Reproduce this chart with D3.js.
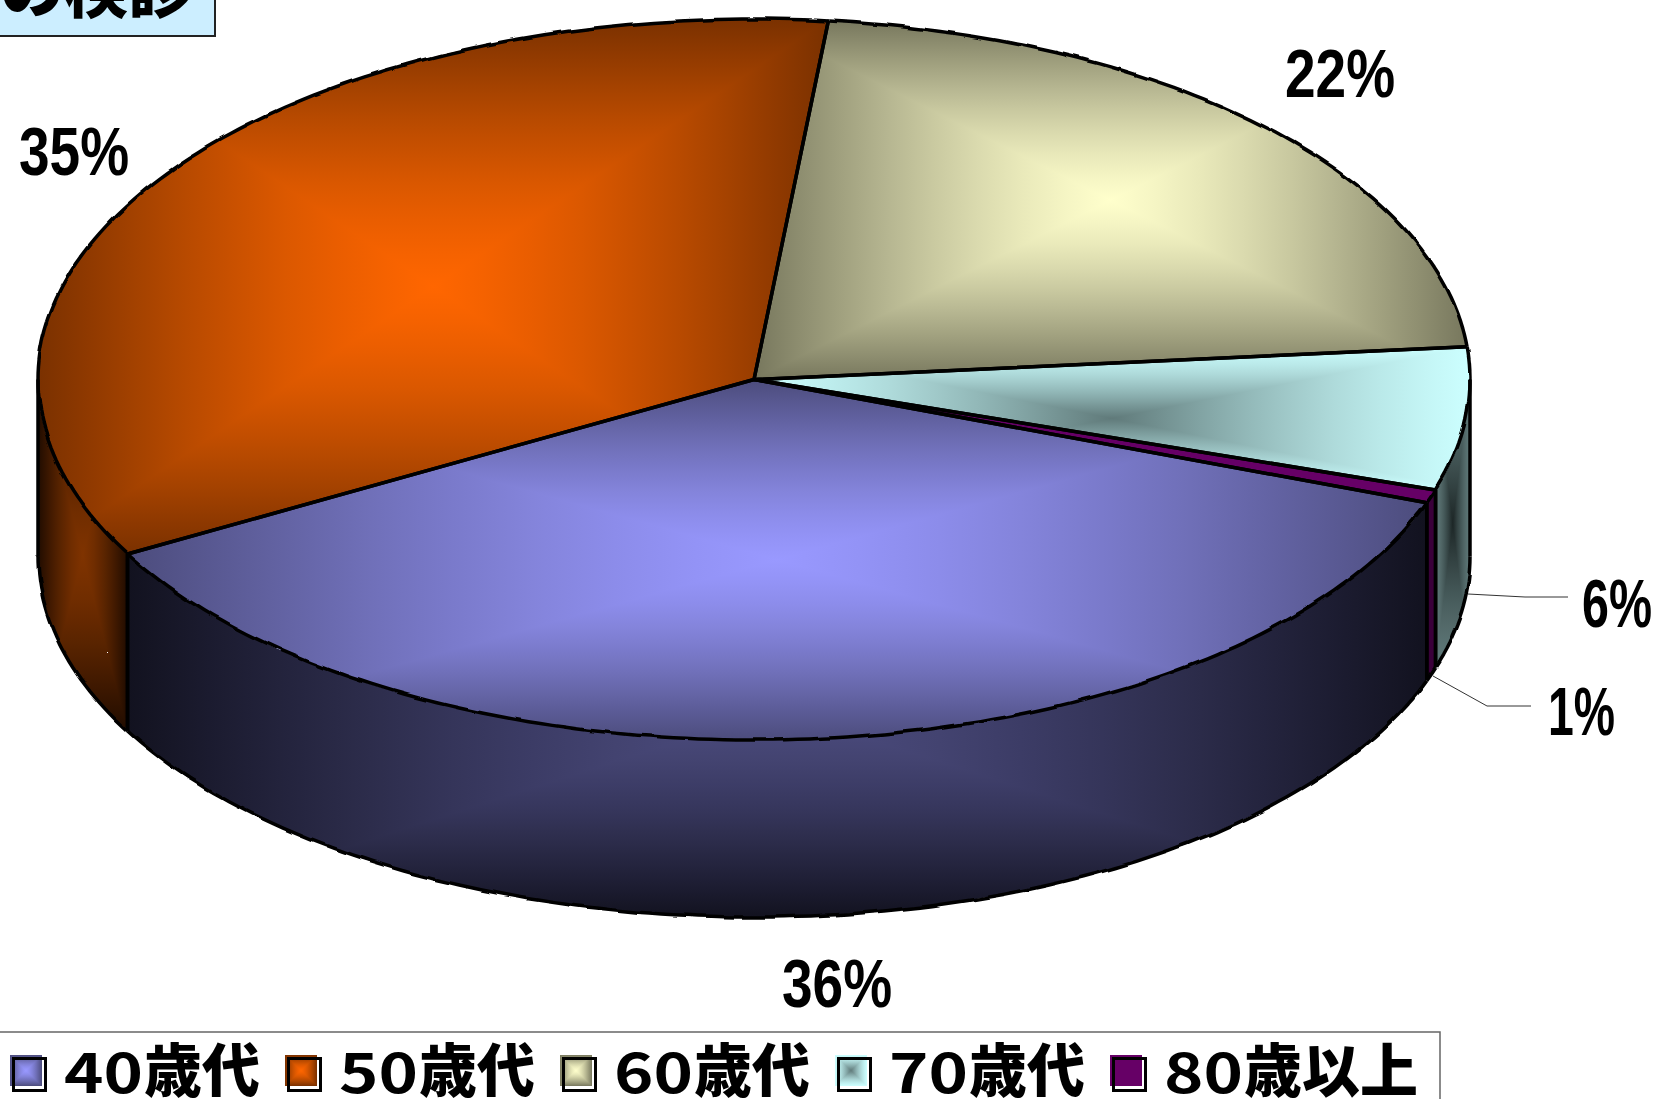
<!DOCTYPE html>
<html lang="ja">
<head>
<meta charset="UTF-8">
<title>年代別</title>
<script src="https://cdn.jsdelivr.net/npm/d3@7/dist/d3.min.js"></script>
<style>
html,body{margin:0;padding:0;background:#fff;overflow:hidden}
svg{display:block}
.pct{font-family:"Liberation Sans",sans-serif;font-weight:700;font-size:68px;fill:#000}
.jp{font-family:"Noto Sans CJK JP",sans-serif;font-weight:900;fill:#000}
</style>
</head>
<body>
<svg id="chart" width="1658" height="1099"></svg>
<script>
// data
var ages=['40','50','60','70','80']
var ageSuffix=['歳代','歳代','歳代','歳代','歳以上']
var pctLabels=['36%','35%','22%','6%','1%']
var shares=[36.4,34.7,21.9,6.4,0.6]
var topEdge=['#4c4c7c','#7a3100','#77775d','#ccffff','#660066']
var topMid=['#9999ff','#ff6600','#ffffcc','#607a7a','#660066']
var sideEdge=['#12121f','#200c00','#333326','#607a7a','#3a003a']
var sideMid=['#4c4c80','#7f3300','#77775d','#1c2626','#3a003a']

var W=1658,H=1099
var depth=177
var startDeg=110
var TWO_PI=Math.PI*2
var svg=d3.select('#chart')
var defs=svg.append('defs')

// unit circle to the ellipse of the top face
var x=d3.scaleLinear().domain([-1,1]).range([38,1470])
var y=d3.scaleLinear().domain([1,-1]).range([19,740])
var line=d3.line()

var pie=d3.pie().sort(null)
	.startAngle(startDeg*Math.PI/180)
	.endAngle((startDeg+360)*Math.PI/180)
var slices=pie(shares)

// the rim in the original is a jagged bitmap, so wobble just the rim strokes a bit
var wobble=defs.append('filter').attr('id','wobble')
	.attr('filterUnits','userSpaceOnUse')
	.attr('x',0).attr('y',0).attr('width',W).attr('height',H)
wobble.append('feTurbulence').attr('type','fractalNoise')
	.attr('baseFrequency',0.03).attr('numOctaves',2).attr('seed',4).attr('result','n')
wobble.append('feDisplacementMap').attr('in','SourceGraphic').attr('in2','n')
	.attr('scale',5).attr('xChannelSelector','R').attr('yChannelSelector','G')

function rim(a0,a1) {
	var n=Math.max(2,Math.ceil((a1-a0)*180/Math.PI))
	return d3.range(n+1).map(function(i) {
		var a=a0+(a1-a0)*i/n
		return [x(Math.sin(a)),y(Math.cos(a))]
	})
}
function down(pts) {
	return pts.map(function(p){return [p[0],p[1]+depth]})
}
// side wall only exists on the front half, 90deg to 270deg
function sideRange(d) {
	var off=d.startAngle>=TWO_PI ? TWO_PI : 0
	var r0=Math.max(d.startAngle-off,Math.PI/2)
	var r1=Math.min(d.endAngle-off,Math.PI*1.5)
	return r1>r0 ? [r0,r1] : null
}

// office style rectangular gradient: four triangles meeting in the middle of the box
var gid=0
function gradStops(lg,edge,mid) {
	var mix=d3.interpolateRgb(edge,mid)
	var darkMid=d3.hsl(mid).l<d3.hsl(edge).l
	d3.range(9).forEach(function(i) {
		var t=i/8
		// the light end of the ramp is a little wider than the dark end
		var m=darkMid ? 1-Math.cos(t*Math.PI/2) : Math.sin(t*Math.PI/2)
		lg.append('stop').attr('offset',t).attr('stop-color',mix((m+t)/2))
	})
}
function boxFill(g,b,edge,mid) {
	var cx=b.x+b.width/2,cy=b.y+b.height/2
	var x1=b.x+b.width,y1=b.y+b.height
	var sides=[
		{p:[[b.x,b.y],[x1,b.y],[cx,cy]],from:[cx,b.y]},
		{p:[[x1,b.y],[x1,y1],[cx,cy]],from:[x1,cy]},
		{p:[[x1,y1],[b.x,y1],[cx,cy]],from:[cx,y1]},
		{p:[[b.x,y1],[b.x,b.y],[cx,cy]],from:[b.x,cy]}
	]
	sides.forEach(function(s) {
		var id='g'+(gid++)
		var lg=defs.append('linearGradient').attr('id',id)
			.attr('gradientUnits','userSpaceOnUse')
			.attr('x1',s.from[0]).attr('y1',s.from[1])
			.attr('x2',cx).attr('y2',cy)
		gradStops(lg,edge,mid)
		g.append('path').attr('d',line(s.p)+'Z')
			.attr('fill','url(#'+id+')')
			.attr('shape-rendering','crispEdges')
	})
}
function face(parent,path,edge,mid) {
	var id='c'+(gid++)
	var cp=defs.append('clipPath').attr('id',id).append('path').attr('d',path)
	var b=cp.node().getBBox()
	var g=parent.append('g').attr('clip-path','url(#'+id+')')
	if(edge==mid) {
		g.append('rect').attr('x',b.x).attr('y',b.y).attr('width',b.width).attr('height',b.height).attr('fill',edge)
	} else {
		boxFill(g,b,edge,mid)
	}
}

var faces=svg.append('g')
var straight=svg.append('g').attr('fill','none').attr('stroke','#000')
	.attr('stroke-width',3.5).attr('stroke-linejoin','round')
var rims=svg.append('g').attr('fill','none').attr('stroke','#000')
	.attr('stroke-width',3.5).attr('stroke-linejoin','round')
	.attr('filter','url(#wobble)')

// walls first
slices.forEach(function(d,i) {
	var r=sideRange(d)
	if(!r) return
	var pts=rim(r[0],r[1])
	var low=down(pts)
	face(faces,line(pts.concat(low.slice().reverse()))+'Z',sideEdge[i],sideMid[i])
	rims.append('path').attr('d',line(low))
	straight.append('path').attr('d',line([pts[0],low[0]]))
	straight.append('path').attr('d',line([pts[pts.length-1],low[low.length-1]]))
})
slices.forEach(function(d,i) {
	var pts=rim(d.startAngle,d.endAngle)
	var mid=[x(0),y(0)]
	face(faces,line([mid].concat(pts))+'Z',topEdge[i],topMid[i])
	rims.append('path').attr('d',line(pts))
	straight.append('path').attr('d',line([pts[0],mid,pts[pts.length-1]]))
})

// percent labels
var labelPos=[[782,1007],[19,175],[1285,97],[1582,627],[1548,735]]
var labelWidth=[110,110,110,70,67]
pctLabels.forEach(function(t,i) {
	svg.append('text').attr('class','pct')
		.attr('x',labelPos[i][0]).attr('y',labelPos[i][1])
		.attr('textLength',labelWidth[i]).attr('lengthAdjust','spacingAndGlyphs')
		.text(t)
})

// leader lines for the two small slices
var leaders=[[[1468,594],[1525,597],[1568,597]],[[1433,676],[1487,706],[1531,706]]]
leaders.forEach(function(l) {
	svg.append('path').attr('d',line(l)).attr('fill','none').attr('stroke','#333').attr('stroke-width',1)
})

// title box, cut by the top of the picture
svg.append('rect').attr('x',-4).attr('y',-4).attr('width',219).attr('height',40)
	.attr('fill','#cceeff').attr('stroke','#222').attr('stroke-width',2)
svg.append('text').attr('class','jp').attr('x',0).attr('y',12)
	.attr('font-size',64).text('の検診')

// legend
svg.append('path').attr('d',line([[-2,1032],[1440,1032],[1440,1101]]))
	.attr('fill','none').attr('stroke','#666').attr('stroke-width',1.5)
var legX=d3.scaleLinear().domain([0,1]).range([10,285])
ages.forEach(function(a,i) {
	var sx=legX(i)
	svg.append('rect').attr('x',sx+3).attr('y',1058).attr('width',33).attr('height',33).attr('fill','#fff')
	var id='c'+(gid++)
	var cp=defs.append('clipPath').attr('id',id).append('rect')
		.attr('x',sx).attr('y',1055).attr('width',32).attr('height',31)
	var g=svg.append('g').attr('clip-path','url(#'+id+')')
	if(topEdge[i]==topMid[i]) {
		g.append('rect').attr('x',sx).attr('y',1055).attr('width',32).attr('height',31).attr('fill',topEdge[i])
	} else {
		boxFill(g,{x:sx,y:1055,width:32,height:31},topEdge[i],topMid[i])
	}
	svg.append('rect').attr('x',sx+3.5).attr('y',1058.5).attr('width',32).attr('height',32)
		.attr('fill','none').attr('stroke','#000').attr('stroke-width',3)
	svg.append('text').attr('class','jp').attr('x',sx+54).attr('y',1093)
		.style('font-weight',700)
		.attr('font-size',54)
		.attr('textLength',79).attr('lengthAdjust','spacingAndGlyphs')
		.text(a)
	svg.append('text').attr('class','jp').attr('x',sx+134).attr('y',1092)
		.attr('font-size',58)
		.text(ageSuffix[i])
})
</script>
</body>
</html>
